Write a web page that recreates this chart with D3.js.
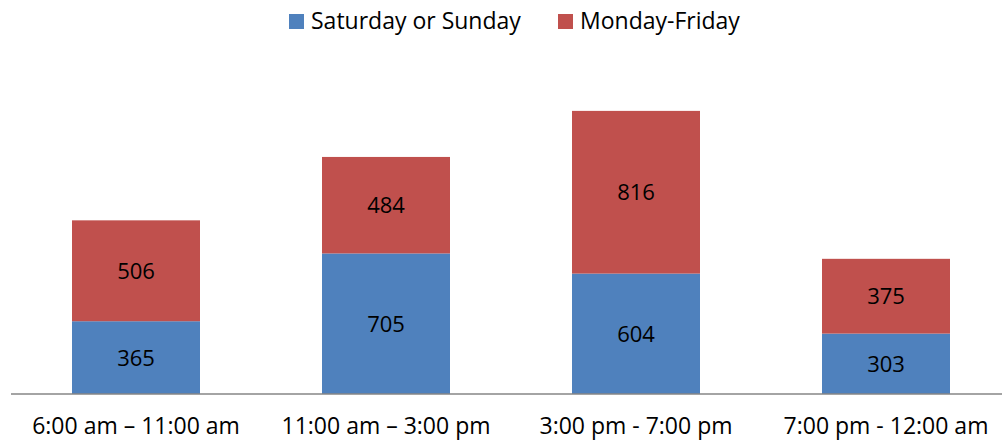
<!DOCTYPE html>
<html>
<head>
    <meta charset="utf-8">
    <script src="https://d3js.org/d3.v7.min.js"></script>
    <style>
        body { margin: 0; background: #fff; }
        text { font-family: "Open Sans", "Noto Sans", sans-serif; fill: #000; }
    </style>
</head>
<body>
    <svg id="chart" width="1002" height="441"></svg>
    <script>
        // data
        const categories = ["6:00 am \u2013 11:00 am", "11:00 am \u2013 3:00 pm", "3:00 pm - 7:00 pm", "7:00 pm - 12:00 am"];
        const seriesNames = ["Saturday or Sunday", "Monday-Friday"];
        const weekend = [365, 705, 604, 303];
        const weekday = [506, 484, 816, 375];
        const colors = ["#4F81BD", "#C0504D"];

        const svg = d3.select("#chart");

        const rows = categories.map((c, i) => ({ cat: c, weekend: weekend[i], weekday: weekday[i] }));
        const stack = d3.stack().keys(["weekend", "weekday"])(rows);

        const x = d3.scaleBand()
            .domain(categories)
            .range([11, 1011])
            .paddingInner(0.488)
            .paddingOuter(0.244);

        const y = d3.scaleLinear()
            .domain([0, 1600])
            .range([394, 75]);

        // bars
        const layers = svg.append("g")
            .selectAll("g")
            .data(stack)
            .join("g")
            .attr("fill", (d, i) => colors[i]);

        layers.selectAll("rect")
            .data(d => d)
            .join("rect")
            .attr("x", d => x(d.data.cat))
            .attr("y", d => y(d[1]))
            .attr("width", x.bandwidth())
            .attr("height", d => y(d[0]) - y(d[1]));

        // value labels
        layers.selectAll("text")
            .data(d => d)
            .join("text")
            .attr("x", d => x(d.data.cat) + x.bandwidth() / 2)
            .attr("y", d => (y(d[0]) + y(d[1])) / 2)
            .attr("dy", "0.36em")
            .attr("text-anchor", "middle")
            .attr("font-size", "22px")
            .text(d => d[1] - d[0]);

        // axis
        const xAxis = svg.append("g")
            .attr("transform", "translate(0,394)")
            .call(d3.axisBottom(x).tickSize(0));
        xAxis.select(".domain").attr("stroke", "#868686").attr("stroke-width", 1.5)
            .attr("d", "M11,0H1002");
        xAxis.selectAll(".tick text")
            .attr("y", 40)
            .attr("dy", 0)
            .attr("font-size", "23px")
            .attr("font-family", "Open Sans, Noto Sans, sans-serif")
            .attr("fill", "#000");

        // legend
        const legendX = [289, 558];
        const legend = svg.append("g")
            .selectAll("g")
            .data(seriesNames)
            .join("g")
            .attr("transform", (d, i) => `translate(${legendX[i]},14)`);
        legend.append("rect")
            .attr("width", 15)
            .attr("height", 15)
            .attr("fill", (d, i) => colors[i]);
        legend.append("text")
            .attr("x", 22)
            .attr("y", 15)
            .attr("font-size", "23px")
            .text(d => d);
    </script>
</body>
</html>
